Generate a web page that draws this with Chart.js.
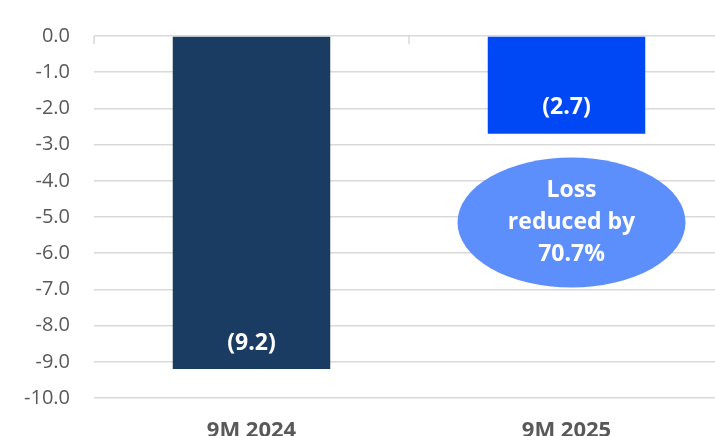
<!DOCTYPE html>
<html>
<head>
<meta charset="utf-8">
<script src="https://cdn.jsdelivr.net/npm/chart.js@4.4.1/dist/chart.umd.min.js"></script>
<style>
  html, body { margin: 0; padding: 0; background: #ffffff; overflow: hidden; }
  #wrap { position: relative; width: 724px; height: 436px; }
</style>
</head>
<body>
<div id="wrap"><canvas id="c"></canvas></div>
<script>
// Net loss by period (EUR m), shown as negative values
const categories = ['9M 2024', '9M 2025'];
const lossValues = [-9.2, -2.7];
const barColors = ['#1a3c62', '#0048f5'];

// Value axis range and tick step
const axisMin = -10;
const axisMax = 0;
const axisStep = 1;

// Callout text next to the second bar
const calloutLines = ['Loss', 'reduced by', '70.7%'];

const FONT = "'Open Sans', 'Noto Sans', sans-serif";
const GRID = '#d9d9d9';
const TEXT = '#595959';

// Value labels "(x.x)" placed near the bottom of each bar
const barLabels = {
  id: 'barLabels',
  afterDatasetsDraw(chart) {
    const ctx = chart.ctx;
    const meta = chart.getDatasetMeta(0);
    ctx.save();
    ctx.fillStyle = '#ffffff';
    ctx.font = `bold 23px ${FONT}`;
    ctx.textAlign = 'center';
    ctx.textBaseline = 'middle';
    meta.data.forEach((bar, i) => {
      const v = chart.data.datasets[0].data[i];
      ctx.fillText(`(${Math.abs(v).toFixed(1)})`, bar.x, bar.y - 26);
    });
    ctx.restore();
  }
};

// Short tick marks on the category boundaries along the zero line
const boundaryTicks = {
  id: 'boundaryTicks',
  beforeDatasetsDraw(chart) {
    const { ctx, scales: { x, y } } = chart;
    const y0 = y.getPixelForValue(0);
    const half = (x.getPixelForValue(1) - x.getPixelForValue(0)) / 2;
    ctx.save();
    ctx.strokeStyle = GRID;
    ctx.lineWidth = 1.5;
    for (let i = 0; i <= categories.length; i++) {
      const px = Math.round(x.getPixelForValue(0) - half + i * 2 * half);
      ctx.beginPath();
      ctx.moveTo(px, y0);
      ctx.lineTo(px, y0 + 8);
      ctx.stroke();
    }
    ctx.restore();
  }
};

// Elliptical callout below the second bar
const callout = {
  id: 'callout',
  afterDatasetsDraw(chart) {
    const { ctx, scales: { x, y } } = chart;
    const cx = x.getPixelForValue(1) + 5;
    const cy = y.getPixelForValue(-5.15);
    ctx.save();
    ctx.fillStyle = '#5c8ffc';
    ctx.beginPath();
    ctx.ellipse(cx, cy, 114, 65, 0, 0, Math.PI * 2);
    ctx.fill();
    ctx.fillStyle = '#ffffff';
    ctx.font = `bold 23px ${FONT}`;
    ctx.textAlign = 'center';
    ctx.textBaseline = 'middle';
    calloutLines.forEach((line, i) => {
      ctx.fillText(line, cx, cy + (i - 1) * 32);
    });
    ctx.restore();
  }
};

new Chart(document.getElementById('c'), {
  type: 'bar',
  data: {
    labels: categories,
    datasets: [{
      data: lossValues,
      backgroundColor: barColors,
      borderWidth: 0,
      barPercentage: 0.5,
      categoryPercentage: 1.0
    }]
  },
  options: {
    responsive: true,
    maintainAspectRatio: false,
    animation: false,
    layout: { padding: { top: 34, left: 0, right: 0, bottom: 0 } },
    plugins: {
      legend: { display: false },
      tooltip: { enabled: false }
    },
    scales: {
      x: {
        grid: { display: false },
        border: { display: false },
        ticks: {
          color: TEXT,
          padding: 12,
          font: { family: FONT, size: 22, weight: 'bold' }
        },
        afterFit(s) { s.height = 38; }
      },
      y: {
        min: axisMin,
        max: axisMax,
        grid: { color: GRID, lineWidth: 1.5, drawTicks: false },
        border: { display: false },
        ticks: {
          stepSize: axisStep,
          color: TEXT,
          padding: 24,
          font: { family: FONT, size: 20 },
          callback: v => Number(v).toFixed(1)
        },
        afterFit(s) { s.width = 94; }
      }
    }
  },
  plugins: [boundaryTicks, barLabels, callout]
});
</script>
</body>
</html>
